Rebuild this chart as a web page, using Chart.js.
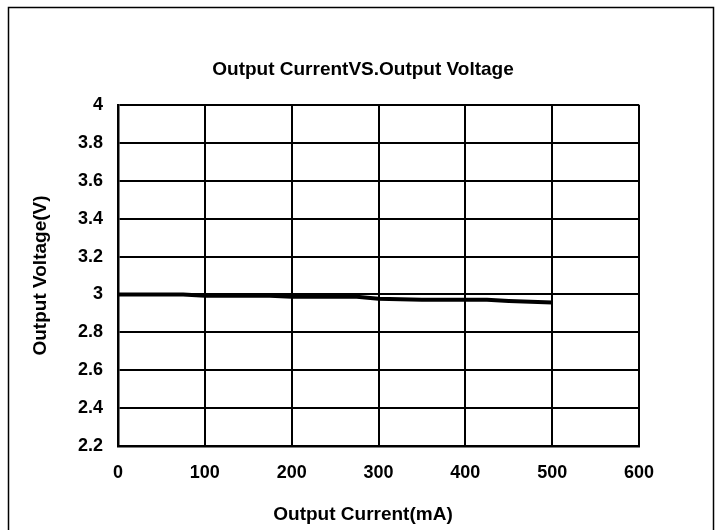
<!DOCTYPE html>
<html>
<head>
<meta charset="utf-8">
<script src="https://cdn.jsdelivr.net/npm/chart.js@4/dist/chart.umd.min.js"></script>
<style>
  html, body { margin: 0; padding: 0; background: #fff; }
  #wrap { width: 722px; height: 530px; }
</style>
</head>
<body>
<div id="wrap"><canvas id="c" width="722" height="530"></canvas></div>
<script>
const chartTitle = "Output CurrentVS.Output Voltage";
const xAxisTitle = "Output Current(mA)";
const yAxisTitle = "Output Voltage(V)";
const currentMA = [0, 75, 100, 175, 200, 275, 300, 350, 425, 450, 500];
const voltageV = [3.0, 3.0, 2.993, 2.993, 2.988, 2.988, 2.978, 2.972, 2.972, 2.966, 2.958];
const xMin = 0, xMax = 600, xStep = 100;
const yMin = 2.2, yMax = 4, yStep = 0.2;

const FONT = "'Liberation Sans', Arial, Helvetica, sans-serif";

const framePlugin = {
  id: 'frame',
  beforeDraw(chart) {
    const ctx = chart.ctx;
    ctx.save();
    ctx.fillStyle = '#fff';
    ctx.fillRect(0, 0, chart.width, chart.height);
    ctx.strokeStyle = '#000';
    ctx.lineWidth = 1.5;
    ctx.strokeRect(8.5, 7.5, 705, 600);
    ctx.restore();
  }
};

new Chart(document.getElementById('c'), {
  type: 'line',
  data: {
    datasets: [{
      data: currentMA.map((x, i) => ({ x: x, y: voltageV[i] })),
      yAxisID: 'y',
      borderColor: '#000',
      backgroundColor: '#000',
      borderWidth: 4,
      pointRadius: 0,
      tension: 0,
      fill: false
    }]
  },
  options: {
    responsive: false,
    animation: false,
    layout: { padding: { left: 25, right: 21, top: 0, bottom: 0 } },
    plugins: {
      legend: { display: false },
      tooltip: { enabled: false },
      title: {
        display: true,
        text: chartTitle,
        color: '#000',
        font: { family: FONT, size: 19, weight: 'bold' },
        padding: { top: 58, bottom: 24 }
      },
      subtitle: {
        display: true,
        position: 'bottom',
        text: xAxisTitle,
        color: '#000',
        font: { family: FONT, size: 19, weight: 'bold' },
        padding: { top: 4, bottom: 4 }
      }
    },
    scales: {
      x: {
        type: 'linear',
        min: xMin, max: xMax,
        ticks: { stepSize: xStep, color: '#000', padding: 16, maxRotation: 0,
                 font: { family: FONT, size: 18, weight: 'bold' } },
        grid: { color: '#000', lineWidth: 2, drawTicks: false },
        border: { color: '#000', width: 2.5 },
        afterFit(scale) { scale.height = 53; }
      },
      y: {
        type: 'linear',
        position: 'left',
        min: yMin, max: yMax,
        ticks: { stepSize: yStep, color: '#000', padding: 15,
                 font: { family: FONT, size: 18, weight: 'bold' },
                 callback: (v) => String(Math.round(v * 10) / 10) },
        grid: { color: '#000', lineWidth: 2, drawTicks: false },
        border: { color: '#000', width: 2.5 },
        title: { display: true, text: yAxisTitle, color: '#000',
                 font: { family: FONT, size: 19, weight: 'bold' }, padding: { top: 4, bottom: 4 } },
        afterFit(scale) { scale.width = 93; }
      },
      spacer: {
        type: 'linear',
        position: 'right',
        display: true,
        ticks: { display: false },
        grid: { display: false, drawTicks: false },
        border: { display: false },
        afterFit(scale) { scale.width = 62; }
      }
    }
  },
  plugins: [framePlugin]
});
</script>
</body>
</html>
